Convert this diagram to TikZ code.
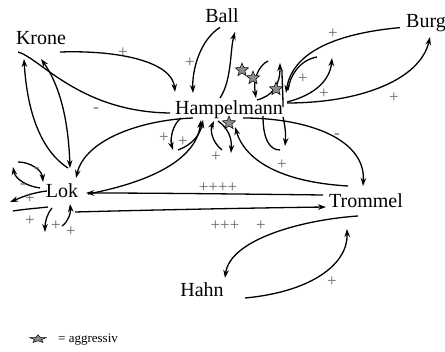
\documentclass[tikz,border=0pt]{standalone}
\usepackage{fontspec}
\setmainfont{Liberation Serif}
\usetikzlibrary{arrows.meta,shapes.geometric}
\begin{document}
\begin{tikzpicture}[x=1pt,y=-1pt,
  lab/.style={font=\fontsize{20}{20}\selectfont, inner sep=0pt, anchor=base},
  sgn/.style={font=\fontsize{17}{17}\selectfont, text=black!60, inner sep=0pt},
  con/.style={line width=1.3pt, -{Stealth[length=8pt,width=5.5pt,inset=2.5pt]}},
  bicon/.style={line width=1.3pt, {Stealth[length=8pt,width=5.5pt,inset=2.5pt]}-{Stealth[length=8pt,width=5.5pt,inset=2.5pt]}},
  ln/.style={line width=1.3pt},
  agg/.style={star, star points=5, star point ratio=2.3, fill=black!45, draw=black, line width=0.5pt, minimum size=14pt, inner sep=0pt}]
\useasboundingbox (0,0) rectangle (445,352);
% main nodes
\node[lab] (krone) at (41,45) {Krone};
\node[lab] (ball) at (222,23) {Ball};
\node[lab] (burg) at (426,28) {Burg};
\node[lab] (ham) at (229,115) {Hampelmann};
\node[lab] (lok) at (62,198) {Lok};
\node[lab] (trommel) at (366,208) {Trommel};
\node[lab] (hahn) at (202,297) {Hahn};
% end points
\coordinate (kA) at (60,52); \coordinate (kB) at (18,52);
\coordinate (kC) at (24,59); \coordinate (kD) at (41,59);
\coordinate (hA) at (175,92); \coordinate (hB) at (170,113);
\coordinate (lA) at (68,168); \coordinate (lB) at (70,168);
% Krone edges
\draw[con] (kA) .. controls (120,50) and (172,62) .. (hA);
\draw[ln] (kB) .. controls (40,58) and (80,112) .. (hB);
\draw[con] (lA) .. controls (40,150) and (27,110) .. (kC);
\draw[bicon] (kD) .. controls (56,80) and (68,110) .. (lB);
% Ball edges
\draw[con] (ball.south) ++(-2,4) .. controls (200,40) and (192,70) .. (193,93);
\draw[con] (220,98) .. controls (232,80) and (230,50) .. (235,32);
% star loops
\draw[con] (268,61) .. controls (258,66) and (253,80) .. (256,98);
\draw[con] (257,100) .. controls (272,96) and (280,86) .. (280,63);
\draw[ln] (283,107) .. controls (283,95) and (282,80) .. (282,70);
% Burg edges
\draw[con] (burg.west) ++(-6,4) .. controls (330,34) and (292,55) .. (286,93);
\draw[ln] (317,57) .. controls (300,60) and (290,75) .. (288,90);
\draw[con] (287,103) .. controls (360,103) and (420,80) .. (430,37);
\draw[con] (287,102) .. controls (315,95) and (330,80) .. (332,58);
% Hampelmann bottom
\draw[ln] (263,116) .. controls (263,140) and (270,150) .. (280,150);
\draw[con] (283,117) .. controls (285,125) and (286,135) .. (285,146);
\draw[con] (181,118) .. controls (172,125) and (170,140) .. (173,150);
\draw[con] (178,150) .. controls (192,145) and (200,135) .. (203,120);
\draw[con] (222,150) .. controls (212,142) and (210,130) .. (214,121);
\draw[con] (218,121) .. controls (228,128) and (232,138) .. (231,153);
% Hampelmann - Lok
\draw[con] (193,118) .. controls (140,120) and (85,140) .. (76,178);
\draw[con] (88,194) .. controls (150,182) and (196,160) .. (201,120);
% Hampelmann - Trommel
\draw[con] (243,118) .. controls (310,118) and (366,140) .. (363,186);
\draw[con] (348,186) .. controls (280,182) and (245,160) .. (235,127);
% Lok - Trommel
\draw[con] (323,195) .. controls (240,194) and (150,193) .. (86,193);
\draw[con] (75,212) .. controls (150,210) and (250,208) .. (326,207);
% Trommel - Hahn
\draw[con] (358,216) .. controls (300,220) and (230,240) .. (225,278);
\draw[con] (245,298) .. controls (310,292) and (348,265) .. (347,229);
% Lok small
\draw[con] (18,162) .. controls (30,162) and (42,170) .. (43,182);
\draw[con] (40,188) .. controls (25,186) and (15,178) .. (13,167);
\draw[con] (47,191) .. controls (30,193) and (20,198) .. (10,202);
\draw[ln] (13,211) .. controls (25,209) and (40,208) .. (48,207);
\draw[con] (52,208) .. controls (47,214) and (45,222) .. (45,232);
\draw[con] (62,226) .. controls (68,222) and (71,213) .. (70,204);
% stars
\node[agg] (s1) at (242,70) {};
\node[agg] (s2) at (253,78) {};
\node[agg] (s3) at (276,89) {};
\node[agg] (s4) at (229,123) {};
% signs
\node[sgn] (p1) at (123,53) {+};
\node[sgn] (m1) at (96,110) {-};
\node[sgn] (p2) at (190,63) {+};
\node[sgn] (p3) at (303,79) {+};
\node[sgn] (p4) at (324,94) {+};
\node[sgn] (p5) at (333,34) {+};
\node[sgn] (p6) at (394,98) {+};
\node[sgn] (m2) at (337,136) {-};
\node[sgn] (p7) at (164,138) {+};
\node[sgn] (p8) at (183,142) {+};
\node[sgn] (p9) at (216,157) {+};
\node[sgn] (p10) at (282,165) {+};
\node[sgn] (p11) at (218,188) {++++};
\node[sgn] (p12) at (225,226) {+++};
\node[sgn] (p13) at (261,226) {+};
\node[sgn] (p14) at (332,282) {+};
\node[sgn] (m3) at (37,170) {-};
\node[sgn] (m4) at (23,186) {-};
\node[sgn] (p15) at (30,199) {+};
\node[sgn] (p16) at (30,221) {+};
\node[sgn] (p17) at (56,226) {+};
\node[sgn] (p18) at (71,232) {+};
% legend
\begin{scope}[shift={(38,339)}, yscale=0.5]
\node[agg, transform shape, minimum size=17pt] (legstar) at (0,0) {};
\end{scope}
\node[font=\fontsize{13}{13}\selectfont, inner sep=0pt, anchor=base west] (legtxt) at (58,343) {= aggressiv};
\end{tikzpicture}
\end{document}
